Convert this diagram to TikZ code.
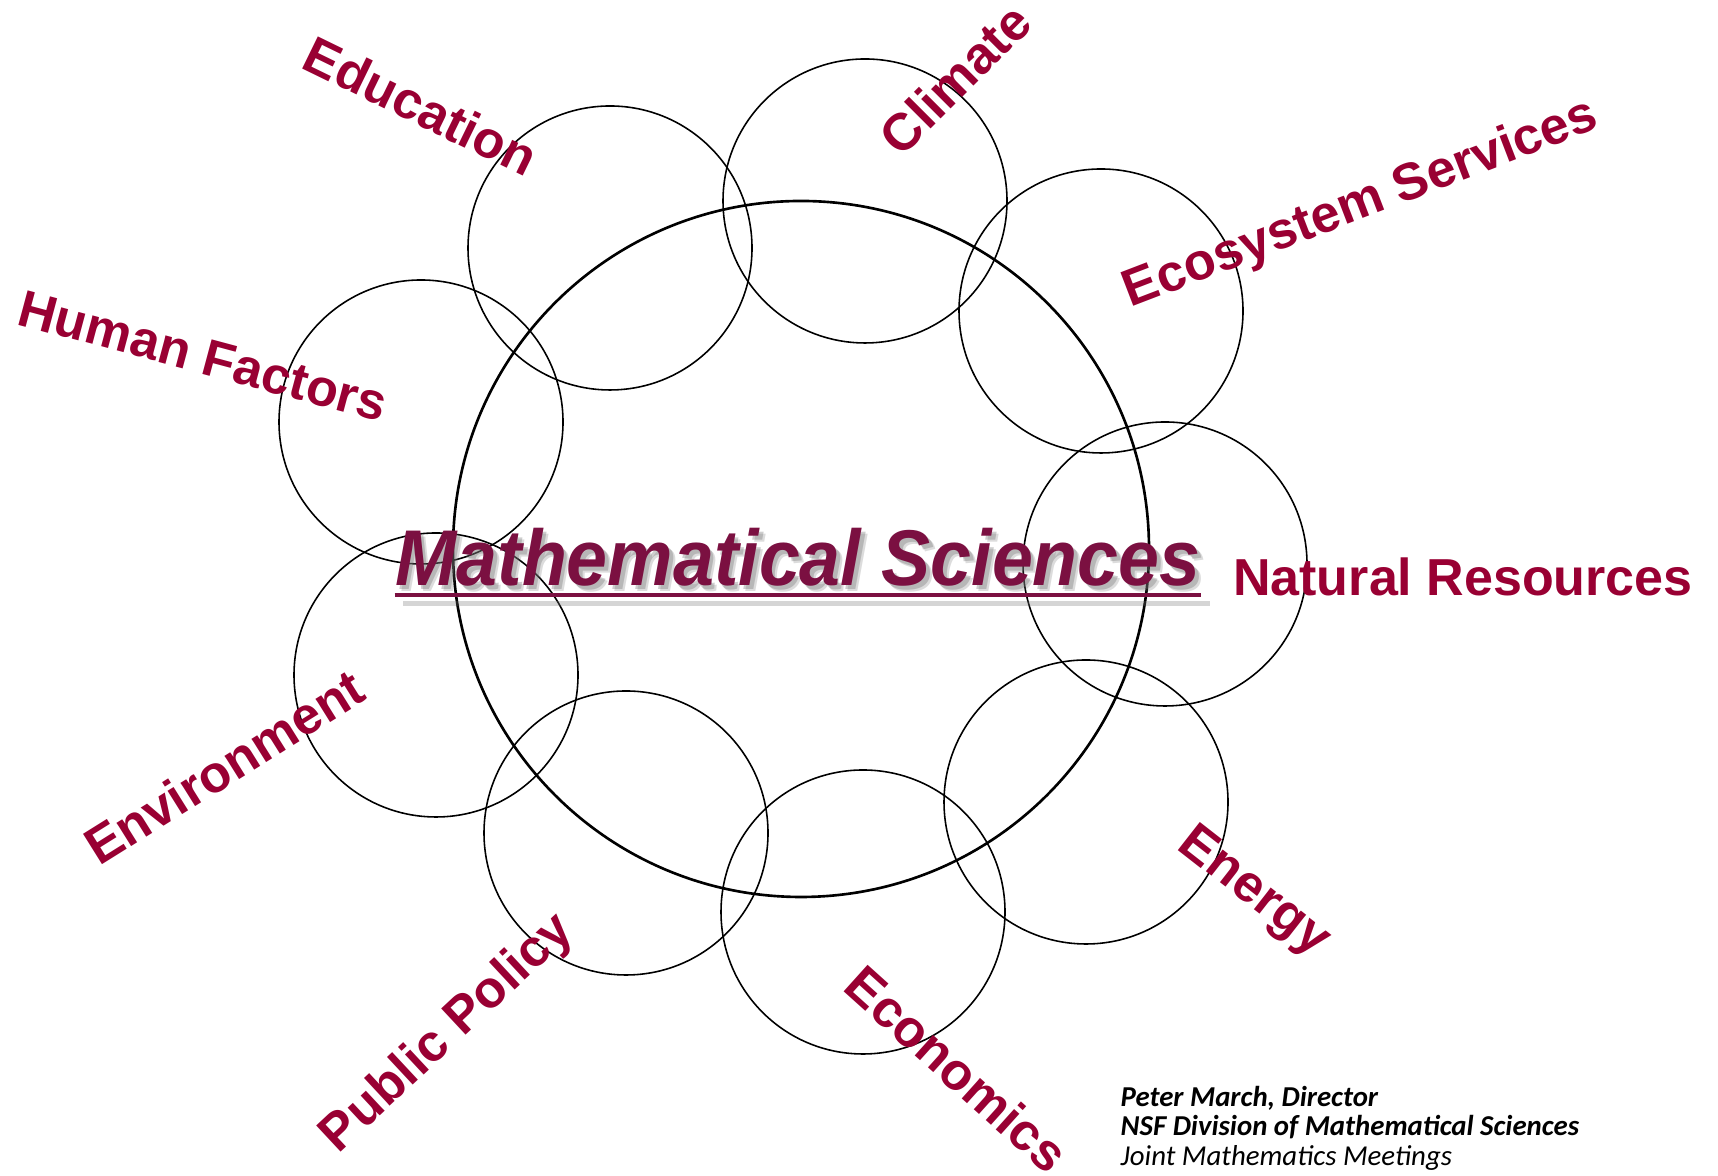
\documentclass[tikz,border=0pt]{standalone}
\usepackage{fontspec}
\setmainfont{Liberation Sans}
\newfontfamily\credfont{Carlito}
\usepackage{tikz}
\usetikzlibrary{positioning}
\definecolor{crimson}{HTML}{990033}
\definecolor{maroon}{HTML}{7B1041}

\begin{document}
\begin{tikzpicture}[
  ring/.style={draw, circle, line width=0.45pt, minimum size=2.84cm, inner sep=0pt},
  bigring/.style={draw, circle, line width=0.75pt, minimum size=6.96cm, inner sep=0pt},
  topic/.style={text=crimson, font=\fontsize{14.8}{17}\selectfont\bfseries, inner sep=0pt},
  headline/.style={font=\fontsize{22.5}{26}\selectfont\bfseries\itshape, xscale=0.93, inner sep=0pt, anchor=base},
  credit/.style={font=\credfont\fontsize{8.2}{8.6}\selectfont, inner sep=0pt, anchor=base west}
]
\useasboundingbox (0,0) rectangle (17.18,11.76);

% the big circle and its ring of topics
\node[bigring] (math) at (8.01,6.27) {};

\foreach \n/\x/\y in {edu/6.10/9.28, clim/8.65/9.75, eco/11.01/8.65, nat/11.65/6.12,
                      ener/10.86/3.74, econ/8.63/2.64, pub/6.26/3.43, env/4.36/5.01, hum/4.21/7.54}
  \node[ring] (c-\n) at (\x,\y) {};

% topic labels
\node[topic, rotate=-26] (l-edu)  at (4.21,10.70) {Education};
\node[topic, rotate=45]  (l-clim) at (9.55,10.97) {Climate};
\node[topic, rotate=21]  (l-eco)  at (13.61,9.71) {Ecosystem Services};
\node[topic]             (l-nat)  at (14.63,5.99) {Natural Resources};
\node[topic, rotate=-38] (l-ener) at (12.53,2.83) {Energy};
\node[topic, rotate=-42] (l-econ) at (9.57,1.07)  {Economics};
\node[topic, rotate=43]  (l-pub)  at (4.48,1.42)  {Public Policy};
\node[topic, rotate=32]  (l-env)  at (2.24,4.09)  {Environment};
\node[topic, rotate=-15] (l-hum)  at (2.03,8.20)  {Human Factors};

% title with a soft shadow
\foreach \d/\o in {0.055/0.25, 0.035/0.35}
  \node[headline, text=black!55, opacity=\o] (shadow) at (7.98+\d,5.90-\d) {Mathematical Sciences};
\draw[black!55, opacity=0.3, line width=1.3pt]
  ([xshift=0.05cm, yshift=-0.14cm]shadow.base west) -- ([xshift=0.05cm, yshift=-0.14cm]shadow.base east);
\node[headline, text=maroon] (title) at (7.98,5.90) {Mathematical Sciences};
\draw[maroon, line width=1.3pt] ([yshift=-0.09cm]title.base west) -- ([yshift=-0.09cm]title.base east);

% credits
\node[credit] (cred1) at (11.20,0.69) {\bfseries\itshape Peter March, Director};
\node[credit] (cred2) at (11.20,0.40) {\bfseries\itshape NSF Division of Mathematical Sciences};
\node[credit] (cred3) at (11.20,0.10) {\itshape Joint Mathematics Meetings};

\end{tikzpicture}
\end{document}
